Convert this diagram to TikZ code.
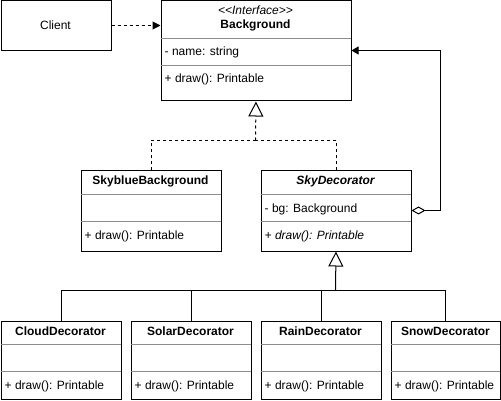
\documentclass[tikz,border=0pt]{standalone}
\usepackage{fontspec}
\setmainfont{Liberation Sans}
\usetikzlibrary{arrows.meta}
\begin{document}
\begin{tikzpicture}[x=1pt,y=-1pt,
  box/.style={draw=black,line width=1pt,minimum width=#1,inner sep=0pt,anchor=north west},
  sep/.style={draw=black!45,line width=1pt},
  txt/.style={inner sep=0pt,font=\fontsize{12}{14}\selectfont},
  ltxt/.style={txt,anchor=base west},
  ctxt/.style={txt,anchor=base},
  conn/.style={line width=1pt},
  dash3/.style={dash pattern=on 3pt off 3pt},
  inh/.style={-{Triangle[open,length=15pt,width=15pt,line width=1pt]}},
  filledtip/.style={-{Triangle[length=8pt,width=8pt]}},
  agg/.style={{Diamond[open,length=14pt,width=8pt,line width=1pt]}-{Triangle[length=7pt,width=8pt]}}
]
\useasboundingbox (0,0) rectangle (501,401);

% Client
\node[box=110pt,minimum height=50pt] (client) at (0.5,0.5) {};
\node[ctxt] (clientT) at (55.5,30) {Client};

% Background
\node[box=190pt,minimum height=100pt] (bg) at (160.5,0.5) {};
\draw[sep] (160.5,38.5) -- (350.5,38.5);
\draw[sep] (160.5,65.5) -- (350.5,65.5);
\node[ctxt] (bgS) at (255.5,14.5) {\itshape\textless\kern0pt\textless\kern0pt Interface\textgreater\kern0pt\textgreater};
\node[ctxt] (bgT) at (255.5,29) {\bfseries Background};
\node[ltxt] (bgA) at (164.5,56) {- name: string};
\node[ltxt] (bgM) at (164.5,83) {+ draw(): Printable};

% SkyblueBackground
\node[box=140pt,minimum height=80pt] (sky) at (80.5,170.5) {};
\draw[sep] (80.5,194.5) -- (220.5,194.5);
\draw[sep] (80.5,221.5) -- (220.5,221.5);
\node[ctxt] (skyT) at (150.5,185) {\bfseries SkyblueBackground};
\node[ltxt] (skyM) at (84.5,239) {+ draw(): Printable};

% SkyDecorator
\node[box=150pt,minimum height=80pt] (dec) at (260.5,170.5) {};
\draw[sep] (260.5,194.5) -- (410.5,194.5);
\draw[sep] (260.5,221.5) -- (410.5,221.5);
\node[ctxt] (decT) at (335.5,185) {\bfseries\itshape SkyDecorator};
\node[ltxt] (decA) at (264.5,212) {- bg: Background};
\node[ltxt] (decM) at (264.5,239) {\itshape + draw(): Printable};

% Bottom classes
\node[box=120pt,minimum height=78pt] (cloud) at (0.5,320.5) {};
\node[box=120pt,minimum height=78pt] (solar) at (130.5,320.5) {};
\node[box=120pt,minimum height=78pt] (rain) at (260.5,320.5) {};
\node[box=109pt,minimum height=78pt] (snow) at (390.5,320.5) {};
\foreach \l/\r in {0.5/120.5,130.5/250.5,260.5/380.5,390.5/499.5}{
  \draw[sep] (\l,344.5) -- (\r,344.5);
  \draw[sep] (\l,371.5) -- (\r,371.5);
}
\node[ctxt] (cloudT) at (60.5,335.5) {\bfseries CloudDecorator};
\node[ctxt] (solarT) at (190.5,335.5) {\bfseries SolarDecorator};
\node[ctxt] (rainT) at (320.5,335.5) {\bfseries RainDecorator};
\node[ctxt] (snowT) at (445.5,335.5) {\bfseries SnowDecorator};
\node[ltxt] (cloudM) at (4.5,389) {+ draw(): Printable};
\node[ltxt] (solarM) at (134.5,389) {+ draw(): Printable};
\node[ltxt] (rainM) at (264.5,389) {+ draw(): Printable};
\node[ltxt] (snowM) at (394.5,389) {+ draw(): Printable};

% Client -> Background (dependency)
\draw[conn,dash3,filledtip] (client.east |- 0,25.5) -- (bg.west |- 0,25.5);

% Realization
\coordinate (j1) at (255.5,140.5);
\draw[conn,dash3] (sky.north) |- (j1);
\draw[conn,dash3] (dec.north) |- (j1);
\draw[conn,dash3,inh] (j1) -- (bg.south);

% Generalization
\coordinate (j2) at (335.5,290.5);
\draw[conn] (cloud.north) |- (j2);
\draw[conn] (solar.north) |- (j2);
\draw[conn] (rain.north) |- (j2);
\draw[conn] (snow.north) |- (j2);
\draw[conn,inh] (j2) -- (dec.south);

% Aggregation
\coordinate (a1) at (440.5,210.5);
\coordinate (a2) at (440.5,50.5);
\draw[conn,agg] (dec.east |- a1) -- (a1) -- (a2) -- (bg.east |- a2);
\end{tikzpicture}
\end{document}
